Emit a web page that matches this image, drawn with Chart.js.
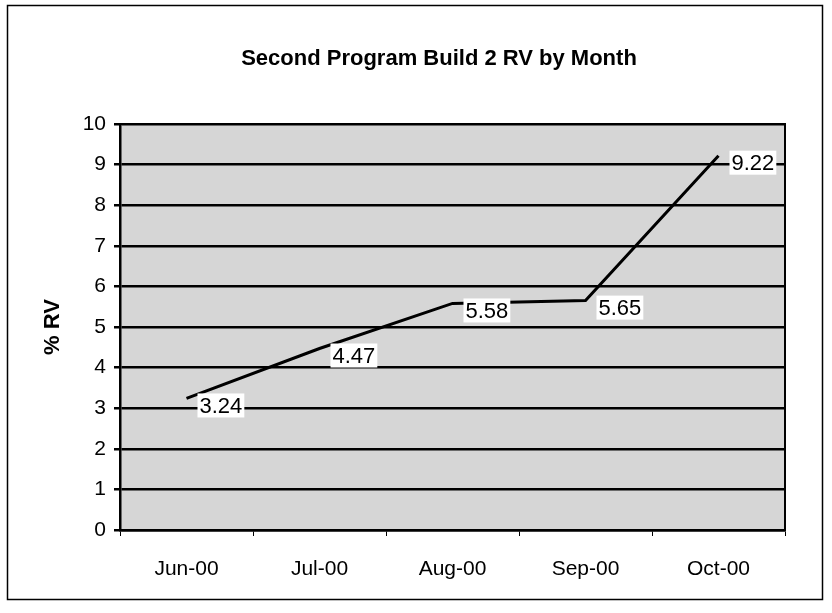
<!DOCTYPE html>
<html>
<head>
<meta charset="utf-8">
<script src="https://cdn.jsdelivr.net/npm/chart.js"></script>
<style>
  html, body { margin: 0; padding: 0; background: #fff; }
  #wrap { width: 832px; height: 613px; }
</style>
</head>
<body>
<div id="wrap"><canvas id="chart" width="832" height="613"></canvas></div>
<script>
const months = ["Jun-00", "Jul-00", "Aug-00", "Sep-00", "Oct-00"];
const rvValues = [3.24, 4.47, 5.58, 5.65, 9.22];
const yMin = 0;
const yMax = 10;
const chartTitle = "Second Program Build 2 RV by Month";
const yTitle = "% RV";

const FONT = "'Liberation Sans', Arial, sans-serif";

// gray plot background, plot frame, outer page border and the title
const frame = {
    id: "frame",
    beforeDraw(chart) {
        const { ctx, chartArea: a } = chart;
        ctx.save();
        ctx.fillStyle = "#d6d6d6";
        ctx.fillRect(a.left, a.top, a.right - a.left, a.bottom - a.top);
        ctx.strokeStyle = "#000";
        ctx.lineWidth = 1.5;
        ctx.strokeRect(7.5, 5.5, 815, 594);
        // title is a bit right of centre in the original
        ctx.fillStyle = "#000";
        ctx.font = "bold 22px " + FONT;
        ctx.textAlign = "center";
        ctx.textBaseline = "middle";
        ctx.fillText(chartTitle, 439, 59);
        ctx.restore();
    },
    afterDraw(chart) {
        const { ctx, chartArea: a } = chart;
        ctx.save();
        ctx.strokeStyle = "#000";
        ctx.lineWidth = 2;
        ctx.strokeRect(a.left, a.top, a.right - a.left, a.bottom - a.top);
        ctx.restore();
    }
};

// value labels in white boxes, to the right of each point
const valueLabels = {
    id: "valueLabels",
    afterDatasetsDraw(chart) {
        const { ctx } = chart;
        const meta = chart.getDatasetMeta(0);
        ctx.save();
        ctx.font = "22px " + FONT;
        ctx.textBaseline = "middle";
        ctx.textAlign = "left";
        meta.data.forEach((pt, i) => {
            const txt = rvValues[i].toFixed(2);
            const w = ctx.measureText(txt).width;
            const x = pt.x + 13;
            const y = pt.y + 7;
            ctx.fillStyle = "#fff";
            ctx.fillRect(x - 2, y - 12, w + 4, 24);
            ctx.fillStyle = "#000";
            ctx.fillText(txt, x, y + 1);
        });
        ctx.restore();
    }
};

new Chart(document.getElementById("chart"), {
    type: "line",
    data: {
        labels: months,
        datasets: [{
            data: rvValues,
            borderColor: "#000",
            borderWidth: 3,
            pointRadius: 0,
            tension: 0,
            fill: false
        }]
    },
    options: {
        responsive: false,
        animation: false,
        layout: { padding: { left: 40, right: 47, top: 124, bottom: 33 } },
        plugins: {
            legend: { display: false },
            tooltip: { enabled: false },
            title: { display: false }
        },
        scales: {
            x: {
                offset: true,
                grid: {
                    offset: true,
                    drawOnChartArea: false,
                    drawTicks: true,
                    tickLength: 6,
                    color: "#000"
                },
                border: { display: true, color: "#000", width: 2.5 },
                ticks: { color: "#000", font: { family: FONT, size: 21 }, padding: 21 },
                afterFit(scale) { scale.height = 50; }
            },
            y: {
                min: yMin,
                max: yMax,
                ticks: { stepSize: 1, color: "#000", font: { family: FONT, size: 21 }, padding: 8 },
                grid: { color: "#000", lineWidth: 2.5, tickLength: 6 },
                border: { display: true, color: "#000", width: 2.5 },
                title: {
                    display: true,
                    text: yTitle,
                    color: "#000",
                    font: { family: FONT, size: 22, weight: "bold" },
                    padding: { top: 0, bottom: 0 }
                },
                afterFit(scale) { scale.width = 80; }
            }
        }
    },
    plugins: [frame, valueLabels]
});
</script>
</body>
</html>
